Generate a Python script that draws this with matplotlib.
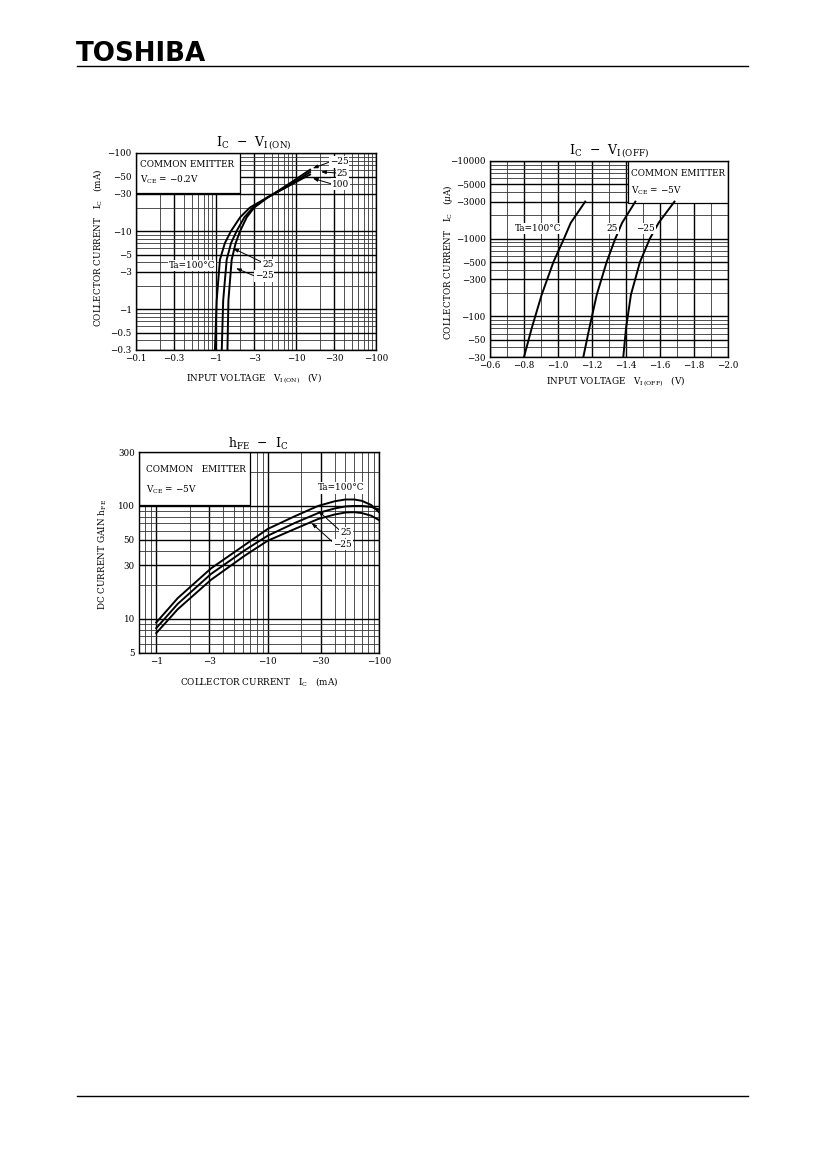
import matplotlib
matplotlib.use("Agg")
import matplotlib.pyplot as plt
from matplotlib.patches import Rectangle
from matplotlib.ticker import LogLocator, MultipleLocator, NullFormatter
import numpy as np

plt.rcParams['font.family'] = ['DejaVu Serif']
plt.rcParams['mathtext.fontset'] = 'dejavuserif'

W, H = 826, 1169
M = '\u2212'

# ---- IC - VI(ON), VCE = -0.2V  (magnitudes: mA, V)
on_ic_100 = [0.3, 1.3, 4.3, 7, 10, 15, 20, 27, 37, 47, 53]
on_vi_100 = [0.97, 1.02, 1.12, 1.29, 1.54, 2.0, 2.65, 4.4, 7.8, 12.0, 15.0]
on_ic_25 = [0.3, 1.3, 4.3, 7, 10, 15, 20, 27, 37, 48, 57]
on_vi_25 = [1.18, 1.23, 1.36, 1.54, 1.81, 2.26, 2.9, 4.4, 7.6, 11.5, 15.0]
on_ic_m25 = [0.3, 1.3, 4.3, 7, 10, 15, 20, 27, 38, 50, 61]
on_vi_m25 = [1.39, 1.43, 1.57, 1.76, 2.0, 2.42, 3.0, 4.45, 7.5, 11.2, 15.0]
on_xticks = [0.1, 0.3, 1, 3, 10, 30, 100]
on_xlabels = [M + '0.1', M + '0.3', M + '1', M + '3', M + '10', M + '30', M + '100']
on_yticks = [0.3, 0.5, 1, 3, 5, 10, 30, 50, 100]
on_ylabels = [M + '0.3', M + '0.5', M + '1', M + '3', M + '5', M + '10', M + '30', M + '50', M + '100']

# ---- IC - VI(OFF), VCE = -5V  (magnitudes: uA, V)
off_ic = [30, 70, 190, 500, 1000, 1600, 3000]
off_vi_100 = [0.80, 0.845, 0.904, 0.973, 1.035, 1.075, 1.16]
off_vi_25 = [1.149, 1.184, 1.228, 1.286, 1.337, 1.377, 1.455]
off_vi_m25 = [1.384, 1.40, 1.429, 1.482, 1.54, 1.592, 1.685]
off_xticks = [0.6, 0.8, 1.0, 1.2, 1.4, 1.6, 1.8, 2.0]
off_xlabels = [M + '0.6', M + '0.8', M + '1.0', M + '1.2', M + '1.4', M + '1.6', M + '1.8', M + '2.0']
off_yticks = [30, 50, 100, 300, 500, 1000, 3000, 5000, 10000]
off_ylabels = [M + '30', M + '50', M + '100', M + '300', M + '500', M + '1000', M + '3000', M + '5000', M + '10000']

# ---- hFE - IC, VCE = -5V  (magnitudes: mA)
hfe_ic = [1, 1.56, 3.1, 6.2, 10, 17.5, 28.4, 40, 50, 60, 70, 85, 100]
hfe_100 = [9.3, 15.3, 28, 45, 62.5, 81, 100, 110, 114, 114, 111, 102, 88]
hfe_25 = [8.3, 13.6, 25, 40.4, 54.5, 70.6, 86.5, 95, 99, 100, 100, 98, 93]
hfe_m25 = [7.5, 12.2, 22.2, 36.2, 49.2, 62.5, 76.6, 84, 87.5, 88, 86.5, 82, 75]
hfe_xticks = [1, 3, 10, 30, 100]
hfe_xlabels = [M + '1', M + '3', M + '10', M + '30', M + '100']
hfe_yticks = [5, 10, 30, 50, 100, 300]
hfe_ylabels = ['5', '10', '30', '50', '100', '300']


def rect(l, t, r, b):
    return [l / W, 1 - b / H, (r - l) / W, (b - t) / H]


def fx(x):
    return x / W


def fy(y):
    return 1 - y / H


def style(ax):
    ax.grid(which='major', color='black', lw=1.0)
    ax.grid(which='minor', color='0.2', lw=0.6)
    ax.set_axisbelow(True)
    ax.tick_params(which='both', length=0, labelsize=6.3, pad=3)
    for s in ax.spines.values():
        s.set_linewidth(1.0)


def logminor(axis):
    axis.set_minor_locator(LogLocator(base=10, subs=np.arange(1, 10), numticks=60))
    axis.set_minor_formatter(NullFormatter())


def box(ax, x0, x1, y0):
    ax.add_patch(Rectangle((x0, y0), x1 - x0, 1 - y0, transform=ax.transAxes,
                           facecolor='white', edgecolor='black', lw=0.9, zorder=2.5))


wbg = dict(facecolor='white', edgecolor='none', pad=0.8)
arw = dict(arrowstyle='-|>,head_length=0.45,head_width=0.16', color='black', lw=0.7,
           shrinkA=0, shrinkB=0, relpos=(0, 0.5))
fs = 6.4

fig = plt.figure(figsize=(8.26, 11.69), dpi=100)

# header / footer
fig.text(fx(76), fy(54), 'TOSHIBA', family='DejaVu Sans', weight='heavy', fontsize=18.8,
         ha='left', va='center')
fig.add_artist(plt.Line2D([fx(77), fx(748)], [fy(66), fy(66)], color='black', lw=1.0))
fig.add_artist(plt.Line2D([fx(77), fx(748)], [fy(1096), fy(1096)], color='black', lw=1.0))

# ================= IC - VI(ON)
ax1 = fig.add_axes(rect(136, 153, 376, 350))
ax1.set_xscale('log')
ax1.set_yscale('log')
ax1.set_xlim(0.1, 100)
ax1.set_ylim(0.3, 100)
ax1.plot(on_vi_100, on_ic_100, color='black', lw=1.4, zorder=3)
ax1.plot(on_vi_25, on_ic_25, color='black', lw=1.4, zorder=3)
ax1.plot(on_vi_m25, on_ic_m25, color='black', lw=1.4, zorder=3)
ax1.set_xticks(on_xticks, on_xlabels)
ax1.set_yticks(on_yticks, on_ylabels)
logminor(ax1.xaxis)
logminor(ax1.yaxis)
style(ax1)
box(ax1, 0, 0.433, 0.797)
ax1.text(0.017, 0.942, 'COMMON EMITTER', transform=ax1.transAxes, fontsize=fs, va='center', zorder=4)
ax1.text(0.017, 0.862, r'V$_{\rm CE}$ = ' + M + '0.2V', transform=ax1.transAxes, fontsize=fs,
         va='center', zorder=4)
ax1.text(0.233, 0.431, 'Ta=100°C', transform=ax1.transAxes, fontsize=fs, ha='center', va='center',
         bbox=wbg, zorder=4)
ax1.annotate('25', xy=(1.64, 6.0), xytext=(fx(268), fy(265)), textcoords='figure fraction',
             fontsize=fs, ha='center', va='center', bbox=wbg, arrowprops=dict(arw, relpos=(0, 0.8)), zorder=4)
ax1.annotate(M + '25', xy=(1.78, 3.34), xytext=(fx(264), fy(276)), textcoords='figure fraction',
             fontsize=fs, ha='center', va='center', bbox=wbg, arrowprops=arw, zorder=4)
ax1.annotate(M + '25', xy=(16.2, 63.7), xytext=(fx(339), fy(162)), textcoords='figure fraction',
             fontsize=fs, ha='center', va='center', bbox=wbg, arrowprops=arw, zorder=4)
ax1.annotate('25', xy=(20.5, 57.5), xytext=(fx(342.5), fy(173)), textcoords='figure fraction',
             fontsize=fs, ha='center', va='center', bbox=wbg, arrowprops=arw, zorder=4)
ax1.annotate('100', xy=(16.2, 47.4), xytext=(fx(340.5), fy(184)), textcoords='figure fraction',
             fontsize=fs, ha='center', va='center', bbox=wbg, arrowprops=arw, zorder=4)
fig.text(fx(254), fy(143), r'I$_{\rm C}$  ' + M + r'  V$_{\rm I\,(ON)}$', fontsize=9,
         ha='center', va='center')
fig.text(fx(254), fy(378), r'INPUT VOLTAGE   V$_{\rm I\,(ON)}$   (V)', fontsize=fs,
         ha='center', va='center')
fig.text(fx(97), fy(248), r'COLLECTOR CURRENT   I$_{\rm C}$   (mA)', fontsize=fs,
         ha='center', va='center', rotation=90)

# ================= IC - VI(OFF)
ax2 = fig.add_axes(rect(490, 161, 728, 357))
ax2.set_yscale('log')
ax2.set_xlim(0.6, 2.0)
ax2.set_ylim(30, 10000)
ax2.plot(off_vi_100, off_ic, color='black', lw=1.4, zorder=3)
ax2.plot(off_vi_25, off_ic, color='black', lw=1.4, zorder=3)
ax2.plot(off_vi_m25, off_ic, color='black', lw=1.4, zorder=3)
ax2.set_xticks(off_xticks, off_xlabels)
ax2.xaxis.set_minor_locator(MultipleLocator(0.1))
ax2.set_yticks(off_yticks, off_ylabels)
logminor(ax2.yaxis)
style(ax2)
box(ax2, 0.58, 1.0, 0.784)
ax2.text(0.593, 0.937, 'COMMON EMITTER', transform=ax2.transAxes, fontsize=fs, va='center', zorder=4)
ax2.text(0.593, 0.848, r'V$_{\rm CE}$ = ' + M + '5V', transform=ax2.transAxes, fontsize=fs,
         va='center', zorder=4)
ax2.text(0.202, 0.657, 'Ta=100°C', transform=ax2.transAxes, fontsize=fs, ha='center', va='center',
         bbox=wbg, zorder=4)
ax2.text(0.513, 0.657, '25', transform=ax2.transAxes, fontsize=fs, ha='center', va='center',
         bbox=wbg, zorder=4)
ax2.text(0.655, 0.657, M + '25', transform=ax2.transAxes, fontsize=fs, ha='center', va='center',
         bbox=wbg, zorder=4)
fig.text(fx(609), fy(151), r'I$_{\rm C}$  ' + M + r'  V$_{\rm I\,(OFF)}$', fontsize=9,
         ha='center', va='center')
fig.text(fx(616), fy(381), r'INPUT VOLTAGE   V$_{\rm I\,(OFF)}$   (V)', fontsize=fs,
         ha='center', va='center')
fig.text(fx(448), fy(262), r'COLLECTOR CURRENT   I$_{\rm C}$   ($\mu$A)', fontsize=fs,
         ha='center', va='center', rotation=90)

# ================= hFE - IC
ax3 = fig.add_axes(rect(139, 452, 379, 653))
ax3.set_xscale('log')
ax3.set_yscale('log')
ax3.set_xlim(0.7, 100)
ax3.set_ylim(5, 300)
ax3.plot(hfe_ic, hfe_100, color='black', lw=1.4, zorder=3)
ax3.plot(hfe_ic, hfe_25, color='black', lw=1.4, zorder=3)
ax3.plot(hfe_ic, hfe_m25, color='black', lw=1.4, zorder=3)
ax3.set_xticks(hfe_xticks, hfe_xlabels)
ax3.set_yticks(hfe_yticks, hfe_ylabels)
logminor(ax3.xaxis)
logminor(ax3.yaxis)
style(ax3)
box(ax3, 0, 0.4625, 0.738)
ax3.text(0.028, 0.915, 'COMMON   EMITTER', transform=ax3.transAxes, fontsize=fs, va='center', zorder=4)
ax3.text(0.028, 0.812, r'V$_{\rm CE}$ = ' + M + '5V', transform=ax3.transAxes, fontsize=fs,
         va='center', zorder=4)
ax3.text(0.843, 0.821, 'Ta=100°C', transform=ax3.transAxes, fontsize=fs, ha='center', va='center',
         bbox=wbg, zorder=4)
ax3.annotate('25', xy=(28.4, 90.8), xytext=(fx(346), fy(532.7)), textcoords='figure fraction',
             fontsize=fs, ha='center', va='center', bbox=wbg, arrowprops=dict(arw, relpos=(0, 0.7)), zorder=4)
ax3.annotate(M + '25', xy=(24.8, 70.6), xytext=(fx(342.5), fy(544.3)), textcoords='figure fraction',
             fontsize=fs, ha='center', va='center', bbox=wbg, arrowprops=dict(arw, relpos=(0, 0.7)), zorder=4)
fig.text(fx(258), fy(444), r'h$_{\rm FE}$  ' + M + r'  I$_{\rm C}$', fontsize=9,
         ha='center', va='center')
fig.text(fx(259), fy(682), r'COLLECTOR CURRENT   I$_{\rm C}$   (mA)', fontsize=fs,
         ha='center', va='center')
fig.text(fx(103), fy(554), r'DC CURRENT GAIN h$_{\rm FE}$', fontsize=fs,
         ha='center', va='center', rotation=90)

fig.savefig('out.png', dpi=100)
